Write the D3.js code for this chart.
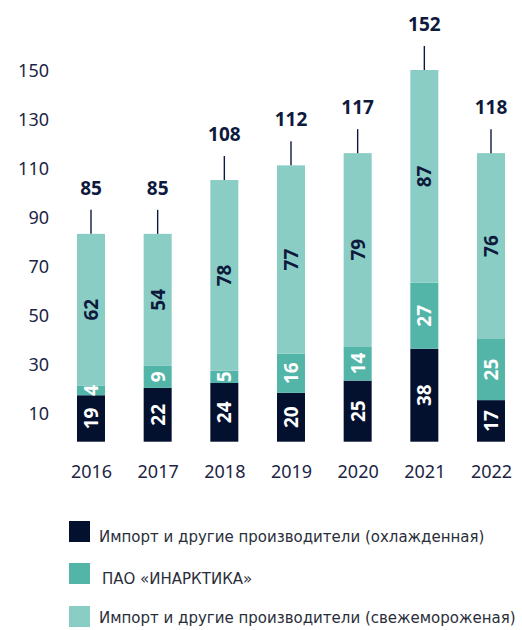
<!DOCTYPE html>
<html>
<head>
<meta charset="utf-8">
<script src="https://cdn.jsdelivr.net/npm/d3@7"></script>
<style>
  body { margin: 0; background: #fff; }
  svg { display: block; }
</style>
</head>
<body>
<div id="chart"></div>
<script>
// data
const years = ["2016", "2017", "2018", "2019", "2020", "2021", "2022"];
const importChilled = [19, 22, 24, 20, 25, 38, 17];
const inarktika = [4, 9, 5, 16, 14, 27, 25];
const importFrozen = [62, 54, 78, 77, 79, 87, 76];
const totals = [85, 85, 108, 112, 117, 152, 118];
const yTicks = [10, 30, 50, 70, 90, 110, 130, 150];
const seriesNames = [
  "Импорт и другие производители (охлажденная)",
  "ПАО «ИНАРКТИКА»",
  "Импорт и другие производители (свежемороженая)"
];
const colors = ["#03112f", "#52b5a8", "#89cdc4"];

const W = 522, H = 630;
const navy = "#0e1a3d";

const svg = d3.select("#chart").append("svg")
  .attr("width", W)
  .attr("height", H);

// scales
const x = d3.scalePoint().domain(years).range([91, 491]);
const y = d3.scaleLinear().domain([0, 152]).range([441.7, 70]);
const barW = 28;

// build rows for stack
const rows = years.map((yr, i) => ({
  year: yr, s0: importChilled[i], s1: inarktika[i], s2: importFrozen[i], total: totals[i]
}));
const stack = d3.stack().keys(["s0", "s1", "s2"])(rows);

// y axis labels (no line), labels sit a little above their tick value
const yAxis = svg.append("g")
  .attr("transform", "translate(49,0)")
  .call(d3.axisLeft(y).tickValues(yTicks).tickSize(0).tickPadding(0));
yAxis.select(".domain").remove();
yAxis.selectAll("text")
  .attr("dy", null)
  .attr("y", -5)
  .attr("dominant-baseline", "central")
  .style("font-family", "'Noto Sans', sans-serif")
  .style("font-size", "18px")
  .style("fill", "#1c2544");

// x axis labels
const xAxis = svg.append("g")
  .attr("transform", "translate(0,460)")
  .call(d3.axisBottom(x).tickSize(0).tickPadding(0));
xAxis.select(".domain").remove();
xAxis.selectAll("text")
  .attr("dy", null)
  .attr("y", 18)
  .style("font-family", "'Noto Sans', sans-serif")
  .style("font-size", "18px")
  .style("fill", "#1c2544");

// bars
const layers = svg.selectAll(".layer")
  .data(stack)
  .enter().append("g")
    .attr("class", "layer")
    .attr("fill", (d, i) => colors[i]);

layers.selectAll("rect")
  .data(d => d)
  .enter().append("rect")
    .attr("x", d => x(d.data.year) - barW / 2)
    .attr("width", barW)
    .attr("y", d => y(d[1]))
    .attr("height", d => y(d[0]) - y(d[1]));

// segment labels, rotated
stack.forEach((layer, li) => {
  svg.append("g").selectAll("text")
    .data(layer)
    .enter().append("text")
      .attr("transform", d => {
        const cx = x(d.data.year);
        const cy = (y(d[0]) + y(d[1])) / 2;
        return "translate(" + cx + "," + cy + ") rotate(-90)";
      })
      .attr("text-anchor", "middle")
      .attr("dominant-baseline", "central")
      .style("font-family", "'Noto Sans', sans-serif")
      .style("font-weight", "bold")
      .style("font-size", "19px")
      .style("fill", li === 2 ? navy : "#ffffff")
      .text(d => d[1] - d[0]);
});

// whiskers + totals
svg.append("g").selectAll("line")
  .data(stack[2])
  .enter().append("line")
    .attr("x1", d => x(d.data.year))
    .attr("x2", d => x(d.data.year))
    .attr("y1", d => y(d[1]))
    .attr("y2", d => y(d[1]) - 24)
    .attr("stroke", navy)
    .attr("stroke-width", 1.4);

svg.append("g").selectAll("text")
  .data(stack[2])
  .enter().append("text")
    .attr("x", d => x(d.data.year))
    .attr("y", d => y(d[1]) - 39)
    .attr("text-anchor", "middle")
    .style("font-family", "'Noto Sans', sans-serif")
    .style("font-weight", "bold")
    .style("font-size", "19px")
    .style("fill", navy)
    .text(d => d.data.total);

// legend
const legendY = [521, 563, 606];
const legendTextY = [537, 579, 618];
const legendTextX = [99, 102, 99];
const legend = svg.append("g");
seriesNames.forEach((name, i) => {
  legend.append("rect")
    .attr("x", 69)
    .attr("y", legendY[i])
    .attr("width", 21)
    .attr("height", 21)
    .attr("fill", colors[i]);
  legend.append("text")
    .attr("x", legendTextX[i])
    .attr("y", legendTextY[i])
    .attr("dominant-baseline", "central")
    .style("font-family", "'DejaVu Sans', sans-serif")
    .style("font-size", "15px")
    .style("fill", "#2a2e3a")
    .text(name);
});
</script>
</body>
</html>
